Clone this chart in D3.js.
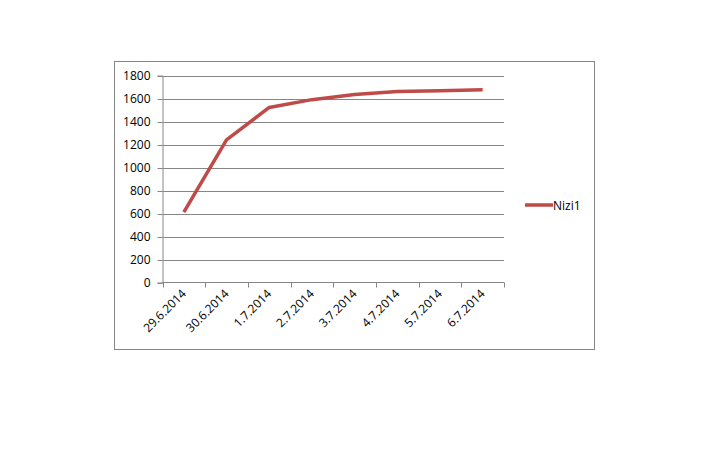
<!DOCTYPE html>
<html><head><meta charset="utf-8">
<script src="https://cdn.jsdelivr.net/npm/d3@7"></script>
<style>
html,body{margin:0;padding:0;background:#fff;}
svg{display:block;font-family:"Open Sans",sans-serif;}
</style></head>
<body><svg id="c" width="720" height="450"></svg>
<script>
const categories = ["29.6.2014","30.6.2014","1.7.2014","2.7.2014","3.7.2014","4.7.2014","5.7.2014","6.7.2014"];
const seriesName = "Nizi1";
const values = [612, 1240, 1522, 1590, 1635, 1660, 1668, 1676];
const yTicks = [0,200,400,600,800,1000,1200,1400,1600,1800];

const svg = d3.select("#c");
const plot = {left:162.5, right:504, top:75.5, bottom:282.5};
const lineColor = "#BE4B48", gridColor = "#868686";

svg.append("rect").attr("x",114.5).attr("y",61.5).attr("width",480).attr("height",288)
  .attr("fill","#fff").attr("stroke",gridColor).attr("stroke-width",1);

const x = d3.scaleBand().domain(categories).range([plot.left, plot.right]);
const y = d3.scaleLinear().domain([0,1800]).range([plot.bottom, plot.top]);

// gridlines
svg.append("g").selectAll("line").data(yTicks.filter(d=>d>0)).join("line")
  .attr("x1",plot.left).attr("x2",plot.right)
  .attr("y1",d=>Math.round(y(d))+0.5).attr("y2",d=>Math.round(y(d))+0.5)
  .attr("stroke",gridColor).attr("stroke-width",1);

// y axis
const yAxis = d3.axisLeft(y).tickValues(yTicks).tickSize(5).tickPadding(7).tickFormat(d3.format("d"));
const gy = svg.append("g").attr("transform",`translate(${plot.left},0)`).call(yAxis);
gy.select(".domain").attr("stroke",gridColor);
gy.selectAll(".tick line").attr("stroke",gridColor);
gy.selectAll(".tick").attr("transform",d=>`translate(0,${Math.round(y(d))+0.5})`);
gy.selectAll("text").attr("font-size",12).attr("fill","#000").attr("font-family","Open Sans, sans-serif");

// x axis
const gx = svg.append("g").attr("transform",`translate(0,${plot.bottom})`);
gx.append("line").attr("x1",plot.left).attr("x2",plot.right).attr("y1",0).attr("y2",0).attr("stroke",gridColor);
const bounds = categories.map(c=>x(c)).concat([plot.right]);
gx.selectAll("line.tk").data(bounds).join("line").attr("class","tk")
  .attr("x1",d=>Math.round(d)+0.5).attr("x2",d=>Math.round(d)+0.5).attr("y1",0).attr("y2",5)
  .attr("stroke",gridColor);
gx.selectAll("text").data(categories).join("text")
  .attr("transform",d=>`translate(${x(d)+x.bandwidth()/2+3},${12}) rotate(-45)`)
  .attr("text-anchor","end").attr("font-size",12).attr("fill","#000")
  .text(d=>d);

// line
const line = d3.line().x((d,i)=>x(categories[i])+x.bandwidth()/2).y(d=>y(d));
svg.append("path").datum(values).attr("d",line).attr("fill","none")
  .attr("stroke",lineColor).attr("stroke-width",3.5).attr("stroke-linejoin","round");

// legend
svg.append("line").attr("x1",525).attr("x2",553).attr("y1",205).attr("y2",205)
  .attr("stroke",lineColor).attr("stroke-width",3.5);
svg.append("text").attr("x",553).attr("y",209.5).attr("font-size",12).attr("fill","#000").text(seriesName);
</script></body></html>
